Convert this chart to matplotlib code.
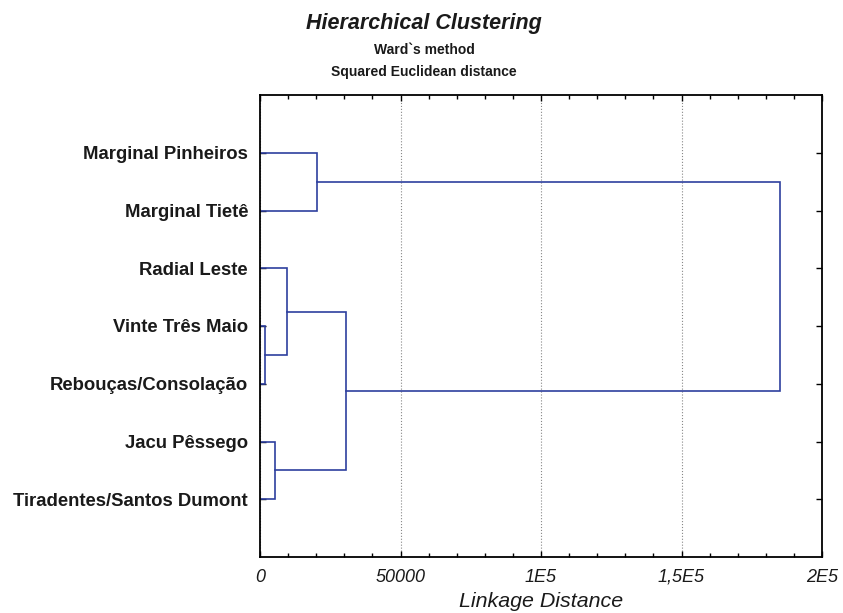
import matplotlib.pyplot as plt
from matplotlib.ticker import MultipleLocator

plt.rcParams['font.family'] = ['Liberation Sans', 'DejaVu Sans']

# leaf order, top to bottom
leaves = ["Marginal Pinheiros", "Marginal Tietê", "Radial Leste", "Vinte Três Maio",
          "Rebouças/Consolação", "Jacu Pêssego", "Tiradentes/Santos Dumont"]

# merges: (cluster a, cluster b, linkage distance); new cluster ids start at 7
merge_a = [3, 5, 2, 0, 9, 10]
merge_b = [4, 6, 7, 1, 8, 11]
merge_dist = [1800, 5300, 9600, 20300, 30600, 185000]

xtick_vals = [0, 50000, 100000, 150000, 200000]
xtick_labels = ["0", "50000", "1E5", "1,5E5", "2E5"]

line_color = "#2e3f9e"

fig = plt.figure(figsize=(8.43, 6.13), dpi=100)
ax = fig.add_axes([260 / 843, 1 - 557 / 613, (822 - 260) / 843, (557 - 95) / 613])

# position and height of each node
pos = {i: i + 1 for i in range(len(leaves))}
height = {i: 0 for i in range(len(leaves))}
node = len(leaves)
for a, b, d in zip(merge_a, merge_b, merge_dist):
    ax.plot([height[a], d, d, height[b]], [pos[a], pos[a], pos[b], pos[b]],
            color=line_color, lw=1.2, solid_joinstyle='miter')
    pos[node] = (pos[a] + pos[b]) / 2
    height[node] = d
    node += 1

ax.set_xlim(0, 200000)
ax.set_ylim(len(leaves) + 1, 0)
ax.set_yticks(range(1, len(leaves) + 1))
ax.set_yticklabels(leaves, fontsize=13.3, fontweight='bold', color='#1a1a1a')
ax.set_xticks(xtick_vals)
ax.set_xticklabels(xtick_labels, fontsize=13, style='italic', color='#1a1a1a')
for lbl in ax.get_xticklabels():
    lbl.set_verticalalignment('baseline')
ax.xaxis.set_minor_locator(MultipleLocator(10000))
ax.tick_params(which='both', direction='in', top=True, right=True)
ax.tick_params(which='major', length=4, width=1)
ax.tick_params(which='minor', length=3, width=1)
ax.tick_params(axis='x', pad=18)
ax.tick_params(axis='y', pad=8.6)
ax.grid(axis='x', which='major', linestyle=':', color='#888888', lw=0.8)
for s in ax.spines.values():
    s.set_linewidth(1.3)

ax.set_xlabel("Linkage Distance", fontsize=15.4, style='italic', labelpad=4,
              color='#1a1a1a')

fig.text(0.503, 1 - 24 / 613, "Hierarchical Clustering", ha='center', va='center',
         fontsize=15.5, fontweight='bold', style='italic', color='#1a1a1a')
fig.text(0.503, 1 - 50 / 613, "Ward`s method", ha='center', va='center',
         fontsize=10, fontweight='bold', color='#1a1a1a')
fig.text(0.503, 1 - 72 / 613, "Squared Euclidean distance", ha='center', va='center',
         fontsize=10, fontweight='bold', color='#1a1a1a')

fig.savefig("out.png", dpi=100)
